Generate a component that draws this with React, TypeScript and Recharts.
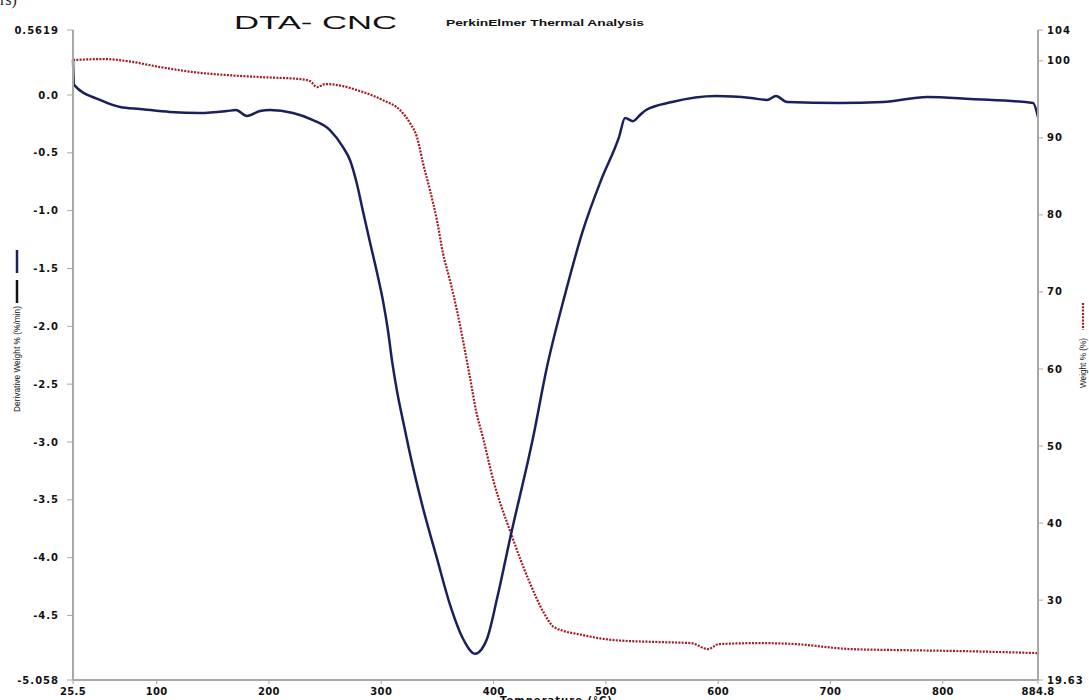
import { LineChart, Line, XAxis, YAxis } from "recharts"

// Derivative weight (DTG) curve, temperature in °C and %/min
const dtgTemp = [
  25.5, 26.4, 49.5, 67.4, 85.2, 111.9, 138.6, 162.6, 170.6, 180.4, 192.0, 200.9, 221.4, 239.2, 254.3, 265.9,
  272.2, 278.4, 283.7, 290.0, 296.2, 301.5, 306.0, 309.6, 314.0, 319.4, 325.6, 337.2, 349.6, 361.2, 372.8, 383.5,
  394.2, 403.1, 414.7, 435.1, 447.6, 463.6, 479.6, 495.7, 511.7, 517.1, 524.2, 530.4, 535.8, 558.9, 598.1,
  629.2, 643.5, 651.5, 661.3, 707.6, 746.8, 786.0, 825.1, 880.4, 884.8,
]
const dtgValue = [
  0.304, 0.087, -0.043, -0.104, -0.121, -0.147, -0.156, -0.139, -0.13, -0.182, -0.139, -0.13, -0.156, -0.217,
  -0.304, -0.451, -0.564, -0.772, -1.006, -1.275, -1.535, -1.778, -2.038, -2.299, -2.559, -2.819, -3.105, -3.573,
  -4.007, -4.406, -4.701, -4.831, -4.701, -4.354, -3.834, -2.966, -2.35, -1.726, -1.171, -0.737, -0.364, -0.199,
  -0.226, -0.173, -0.13, -0.061, -0.009, -0.026, -0.043, -0.009, -0.061, -0.069, -0.061, -0.017, -0.035, -0.069,
  -0.191,
]

// Weight % (TG) curve
const tgTemp = [
  25.5, 52.2, 73.6, 103.0, 132.4, 162.6, 192.0, 227.6, 236.5, 242.8, 249.9, 265.9, 278.4, 301.5, 316.7, 325.6,
  331.8, 337.2, 343.4, 349.6, 355.0, 361.2, 367.4, 372.8, 379.0, 384.4, 390.6, 400.4, 414.7, 431.6, 444.9,
  453.8, 479.6, 507.2, 548.2, 575.8, 591.0, 600.7, 637.3, 668.4, 718.3, 761.9, 817.1, 884.8,
]
const tgValue = [
  100.1, 100.23, 99.97, 99.19, 98.54, 98.15, 97.89, 97.63, 97.37, 96.59, 96.98, 96.72, 96.2, 94.9, 93.6,
  91.91, 90.09, 86.7, 83.19, 79.29, 75.0, 71.49, 67.59, 63.69, 58.88, 54.59, 51.07, 45.22, 38.98, 32.48, 28.32,
  26.5, 25.46, 24.81, 24.55, 24.42, 23.64, 24.29, 24.42, 24.29, 23.64, 23.51, 23.38, 23.12,
]

const xTicks = [25.5, 100, 200, 300, 400, 500, 600, 700, 800, 884.8]
const leftTicks = [0.5619, 0, -0.5, -1, -1.5, -2, -2.5, -3, -3.5, -4, -4.5, -5.058]
const rightTicks = [104, 100, 90, 80, 70, 60, 50, 40, 30, 19.63]

const dtgData = dtgTemp.map((t, i) => ({ t, v: dtgValue[i] }))
const tgData = tgTemp.map((t, i) => ({ t, w: tgValue[i] }))

const tickStyle = {
  fontSize: 10,
  fontFamily: "DejaVu Sans",
  fontWeight: "bold",
  fill: "#111",
  letterSpacing: 1,
}
const xTickStyle = { ...tickStyle, letterSpacing: 0.3 }
const axisStroke = "#a8a8a8"

const fmtLeft = (v: number) => (v === 0.5619 || v === -5.058 ? String(v) : v.toFixed(1))

export default function App() {
  return (
    <div style={{ position: "absolute", top: 0, left: 0, width: 1089, height: 700, background: "#fff" }}>
      <LineChart width={1089} height={700} margin={{ top: 30, right: 0, bottom: 0, left: 0 }}>
        <XAxis
          type="number"
          dataKey="t"
          domain={[25.5, 884.8]}
          ticks={xTicks}
          interval={0}
          height={20}
          tick={xTickStyle}
          tickSize={4}
          tickMargin={4}
          axisLine={{ stroke: axisStroke, strokeWidth: 2 }}
          tickLine={{ stroke: axisStroke }}
          allowDuplicatedCategory={false}
        />
        <YAxis
          yAxisId="left"
          type="number"
          domain={[-5.058, 0.5619]}
          ticks={leftTicks}
          interval={0}
          width={73}
          tick={tickStyle}
          tickFormatter={fmtLeft}
          tickSize={6}
          tickMargin={8}
          axisLine={{ stroke: axisStroke, strokeWidth: 2 }}
          tickLine={{ stroke: axisStroke }}
        />
        <YAxis
          yAxisId="right"
          orientation="right"
          type="number"
          domain={[19.63, 104]}
          ticks={rightTicks}
          interval={0}
          width={51}
          tick={tickStyle}
          tickSize={5}
          tickMargin={4}
          axisLine={{ stroke: axisStroke, strokeWidth: 2 }}
          tickLine={{ stroke: axisStroke }}
        />
        <Line
          yAxisId="right"
          data={tgData}
          dataKey="w"
          type="monotone"
          stroke="#a31a22"
          strokeWidth={2.2}
          strokeDasharray="2 1.3"
          dot={false}
          isAnimationActive={false}
        />
        <Line
          yAxisId="left"
          data={dtgData}
          dataKey="v"
          type="monotone"
          stroke="#1b1f5c"
          strokeWidth={2.5}
          dot={false}
          isAnimationActive={false}
        />
      </LineChart>

      <svg
        width={1089}
        height={700}
        style={{ position: "absolute", top: 0, left: 0, pointerEvents: "none", overflow: "hidden" }}
      >
        <text x={0} y={5} fontFamily="Liberation Serif" fontSize={16} fill="#222">
          rs)
        </text>
        <text
          x={234}
          y={29}
          fontFamily="Liberation Sans"
          fontSize={19}
          fill="#111"
          textLength={163}
          lengthAdjust="spacingAndGlyphs"
        >
          DTA- CNC
        </text>
        <text
          x={446}
          y={26}
          fontFamily="Liberation Sans"
          fontWeight="bold"
          fontSize={8.5}
          fill="#111"
          textLength={198}
          lengthAdjust="spacingAndGlyphs"
        >
          PerkinElmer Thermal Analysis
        </text>

        {/* left axis title with legend swatch */}
        <line x1={17} y1={250} x2={17} y2={273} stroke="#1b1f5c" strokeWidth={2.5} />
        <line x1={17} y1={280} x2={17} y2={303} stroke="#111" strokeWidth={2.5} />
        <text
          transform="translate(20,412) rotate(-90)"
          fontFamily="Liberation Sans"
          fontSize={9}
          fill="#111"
          textLength={106}
          lengthAdjust="spacingAndGlyphs"
        >
          Derivative Weight % (%/min)
        </text>

        {/* right axis title with legend swatch */}
        <line x1={1083} y1={303} x2={1083} y2={330} stroke="#a31a22" strokeWidth={2.2} strokeDasharray="2 1.3" />
        <text
          transform="translate(1086,388) rotate(-90)"
          fontFamily="Liberation Sans"
          fontSize={9}
          fill="#111"
          textLength={50}
          lengthAdjust="spacingAndGlyphs"
        >
          Weight % (%)
        </text>

        <text
          x={500}
          y={704}
          fontFamily="DejaVu Sans"
          fontWeight="bold"
          fontSize={10}
          fill="#111"
          letterSpacing={1}
        >
          Temperature (°C)
        </text>
      </svg>
    </div>
  )
}
